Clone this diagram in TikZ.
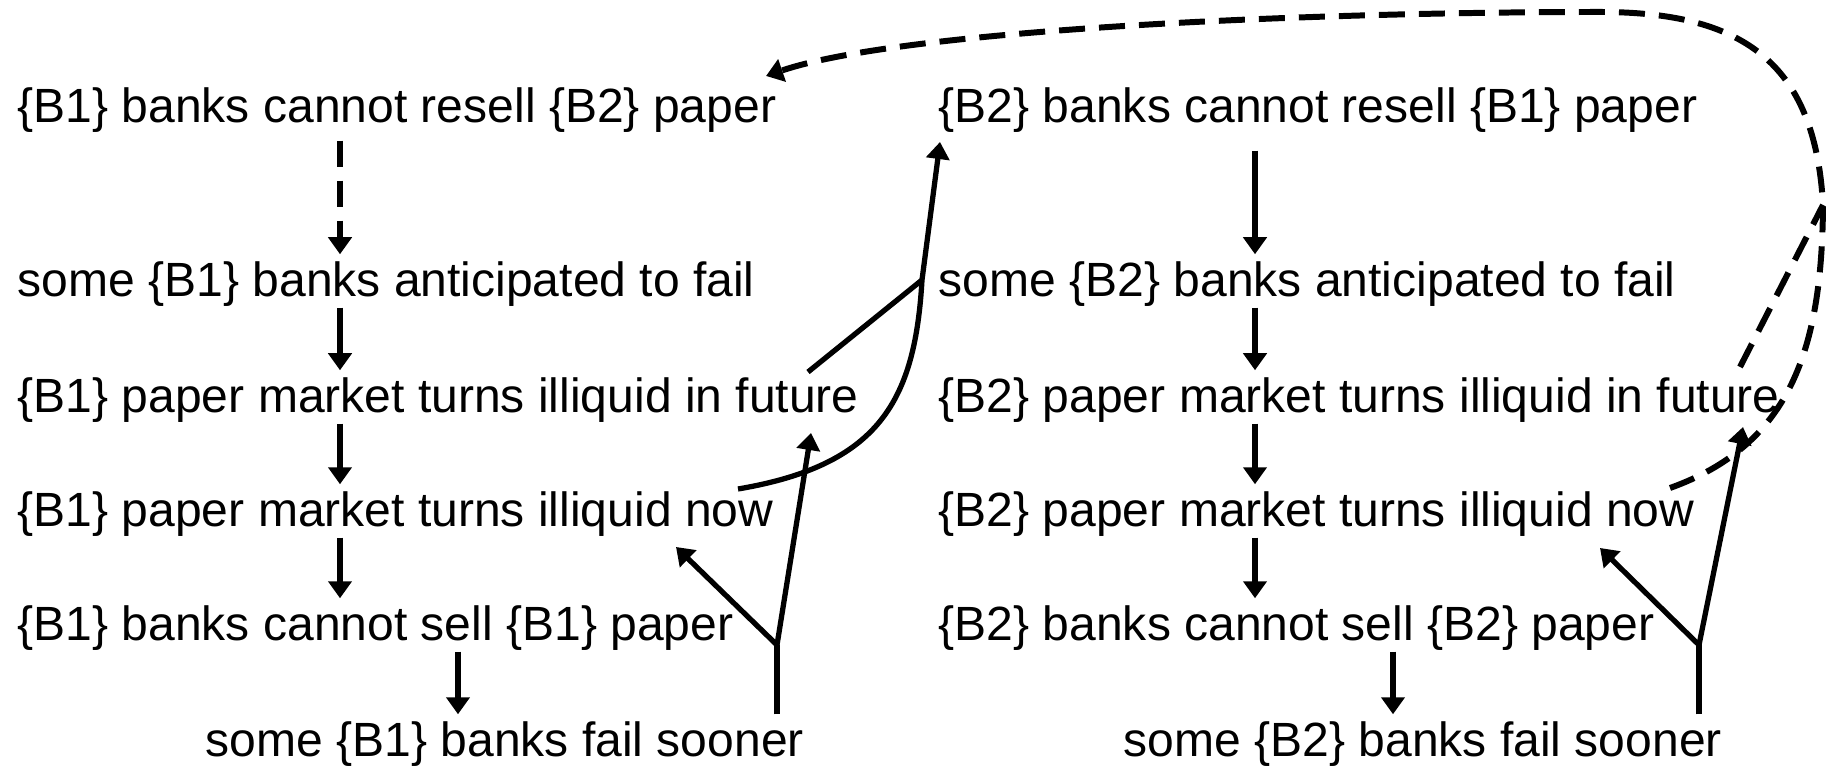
\documentclass[tikz,border=0pt]{standalone}
\usepackage{fontspec}
\setmainfont{Liberation Sans}
\usetikzlibrary{arrows.meta}

\begin{document}
\begin{tikzpicture}[x=0.01cm, y=-0.01cm,
  lbl/.style={anchor=base west, inner sep=0pt, text height=0.42cm, text depth=0.1cm,
    font=\fontsize{13.66pt}{16pt}\selectfont},
  link/.style={line width=1.5pt},
  arr/.style={link, -{Triangle[length=0.17cm, width=0.23cm]}},
  dsh/.style={line width=1.7pt, dash pattern=on 0.26cm off 0.14cm}]
  \useasboundingbox (0,0) rectangle (1836,768);

  \node[lbl] (resellA) at (17,123)  {\{B1\} banks cannot resell \{B2\} paper};
  \node[lbl] (anticA)  at (17,297)  {some \{B1\} banks anticipated to fail};
  \node[lbl] (futA)    at (17,413)  {\{B1\} paper market turns illiquid in future};
  \node[lbl] (nowA)    at (17,527)  {\{B1\} paper market turns illiquid now};
  \node[lbl] (sellA)   at (17,641)  {\{B1\} banks cannot sell \{B1\} paper};
  \node[lbl] (failA)   at (205,757) {some \{B1\} banks fail sooner};

  \node[lbl] (resellB) at (938,123)  {\{B2\} banks cannot resell \{B1\} paper};
  \node[lbl] (anticB)  at (938,297)  {some \{B2\} banks anticipated to fail};
  \node[lbl] (futB)    at (938,413)  {\{B2\} paper market turns illiquid in future};
  \node[lbl] (nowB)    at (938,527)  {\{B2\} paper market turns illiquid now};
  \node[lbl] (sellB)   at (938,641)  {\{B2\} banks cannot sell \{B2\} paper};
  \node[lbl] (failB)   at (1123,757) {some \{B2\} banks fail sooner};

  \coordinate (colA) at (340,0);
  \coordinate (colA2) at (458,0);
  \coordinate (colB) at (1255,0);
  \coordinate (colB2) at (1393,0);

  \draw[arr, dsh, shorten <=0.07cm] (resellA.south -| colA) -- (anticA.north -| colA);
  \draw[arr] (anticA.south -| colA) -- (futA.north -| colA);
  \draw[arr] (futA.south -| colA) -- (nowA.north -| colA);
  \draw[arr] (nowA.south -| colA) -- (sellA.north -| colA);
  \draw[arr] (sellA.south -| colA2) -- (failA.north -| colA2);

  \draw[arr, shorten <=0.17cm] (resellB.south -| colB) -- (anticB.north -| colB);
  \draw[arr] (anticB.south -| colB) -- (futB.north -| colB);
  \draw[arr] (futB.south -| colB) -- (nowB.north -| colB);
  \draw[arr] (nowB.south -| colB) -- (sellB.north -| colB);
  \draw[arr] (sellB.south -| colB2) -- (failB.north -| colB2);

  % failing sooner feeds both the present and the future market
  \coordinate (forkA) at (777,645);
  \coordinate (forkB) at (1699,645);
  \draw[link] (failA.north -| forkA) -- (forkA);
  \draw[arr] (forkA) -- (676,547);
  \draw[arr] (forkA) -- (811,433);
  \draw[link] (failB.north -| forkB) -- (forkB);
  \draw[arr] (forkB) -- (1600,548);
  \draw[arr] (forkB) -- (1743,427);

  % both markets together reach the other group's banks
  \coordinate (joinA) at (922,280);
  \coordinate (joinB) at (1823,205);
  \draw[link] (808,372) -- (joinA);
  \draw[arr] (738,489) .. controls (880,465) and (915,400) .. (joinA) -- (940,142);
  \draw[link, dsh] (1740,367) -- (joinB);
  \draw[arr, dsh] (1670,488) .. controls (1790,445) and (1822,350) .. (joinB)
    .. controls (1815,60) and (1740,12) .. (1600,12)
    .. controls (1300,12) and (900,30) .. (766,76);
\end{tikzpicture}
\end{document}
